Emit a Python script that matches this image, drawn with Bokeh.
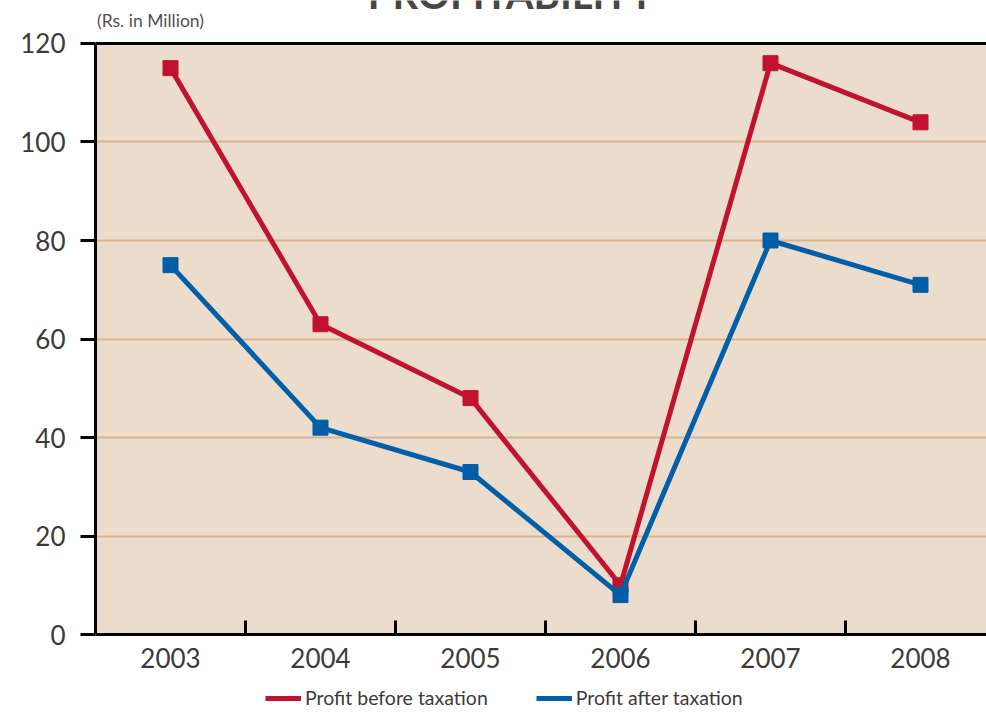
from bokeh.plotting import figure
from bokeh.models import (Range1d, FixedTicker, Label, Legend, LegendItem,
                          BoxAnnotation, Span)
from bokeh.embed import file_html
from bokeh.resources import INLINE

# Profitability, Rs. in Million
years = ["2003", "2004", "2005", "2006", "2007", "2008"]
profit_before_tax = [115, 63, 48, 10, 116, 104]
profit_after_tax = [75, 42, 33, 8, 80, 71]
y_ticks = [0, 20, 40, 60, 80, 100, 120]

RED = "#c1122f"
BLUE = "#005fa8"
TEXT = "#3d3a3a"
FONT = "Lato"

xs = list(range(len(years)))
y_top = y_ticks[-1]

# the frame fills the canvas vertically: heading above the 120 rule,
# year labels and legend below the zero line
p = figure(width=986, height=714, output_backend="svg", toolbar_location=None,
           x_range=Range1d(-0.5, 5.44), y_range=Range1d(-16.24, 128.73),
           min_border_left=95, min_border_top=0, min_border_bottom=0,
           min_border_right=0)
p.outline_line_color = None
p.background_fill_color = "white"
p.border_fill_color = "white"

# beige plotting band between 0 and 120
p.add_layout(BoxAnnotation(bottom=0, top=y_top, fill_color="#ecdccc", fill_alpha=1,
                           line_color=None, level="image"))
p.add_layout(Span(location=y_top, dimension="width", line_color="black", line_width=3))

# x axis pinned to zero: labels at year centres, small inward ticks between years
xa = p.xaxis[0]
xa.fixed_location = 0
xa.ticker = FixedTicker(ticks=xs, minor_ticks=[i + 0.5 for i in xs[:-1]])
xa.major_label_overrides = {i: y for i, y in zip(xs, years)}
xa.major_tick_line_color = None
xa.minor_tick_in = 14
xa.minor_tick_out = 0
xa.minor_tick_line_color = "black"
xa.minor_tick_line_width = 3
xa.axis_line_color = "black"
xa.axis_line_width = 3
xa.major_label_text_font = FONT
xa.major_label_text_font_size = "26px"
xa.major_label_text_color = TEXT
xa.major_label_standoff = 7

ya = p.yaxis[0]
ya.bounds = (0, y_top)
ya.ticker = FixedTicker(ticks=y_ticks)
ya.minor_tick_line_color = None
ya.major_tick_in = 0
ya.major_tick_out = 15
ya.major_tick_line_color = "black"
ya.major_tick_line_width = 3
ya.axis_line_color = "black"
ya.axis_line_width = 3
ya.major_label_text_font = FONT
ya.major_label_text_font_size = "26px"
ya.major_label_text_color = TEXT
ya.major_label_standoff = 15

p.xgrid.grid_line_color = None
p.ygrid.ticker = FixedTicker(ticks=y_ticks[1:-1])
p.ygrid.grid_line_color = "#d6b48f"
p.ygrid.grid_line_width = 2

l1 = p.line(xs, profit_before_tax, line_color=RED, line_width=5)
p.scatter(xs, profit_before_tax, marker="square", size=15, fill_color=RED, line_color=RED)
l2 = p.line(xs, profit_after_tax, line_color=BLUE, line_width=5)
p.scatter(xs, profit_after_tax, marker="square", size=15, fill_color=BLUE, line_color=BLUE)

legend = Legend(items=[LegendItem(label="Profit before taxation", renderers=[l1]),
                       LegendItem(label="Profit after taxation", renderers=[l2])],
                orientation="horizontal", location=(170, 5),
                background_fill_alpha=0, border_line_color=None,
                padding=0, margin=0, spacing=48, glyph_width=36, glyph_height=20,
                label_standoff=4, label_text_font=FONT,
                label_text_font_size="19.5px", label_text_color=TEXT)
p.add_layout(legend, "center")

# heading runs off the top edge
p.add_layout(Label(x=2.27, y=130.15, text="PROFITABILITY", text_align="center",
                   text_baseline="alphabetic", text_font=FONT, text_font_style="bold",
                   text_font_size="40px", text_color="#4a4545"))
p.add_layout(Label(x=-0.49, y=122.5, text="(Rs. in Million)", text_align="left",
                   text_baseline="bottom", text_font=FONT,
                   text_font_size="17.5px", text_color="#555050"))

open("out.html", "w").write(file_html(p, INLINE))
